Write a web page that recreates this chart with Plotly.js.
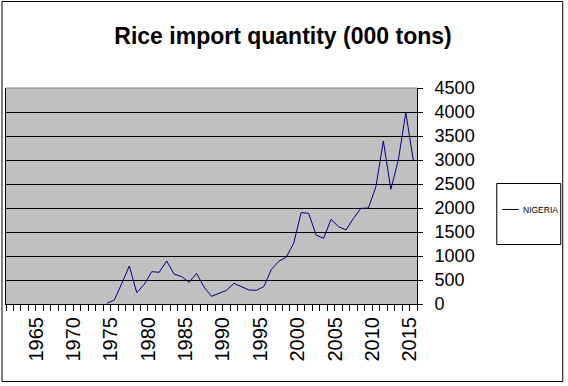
<!DOCTYPE html>
<html>
<head>
<meta charset="utf-8">
<script src="https://cdn.plot.ly/plotly-3.0.1.min.js"></script>
<style>
  html, body { margin: 0; padding: 0; background: #fff; }
  #chart { width: 568px; height: 386px; }
</style>
</head>
<body>
<div id="chart"></div>
<script>
// ---- Data ----
const years = [1962, 1963, 1964, 1965, 1966, 1967, 1968, 1969, 1970, 1971,
               1972, 1973, 1974, 1975, 1976, 1977, 1978, 1979, 1980, 1981,
               1982, 1983, 1984, 1985, 1986, 1987, 1988, 1989, 1990, 1991,
               1992, 1993, 1994, 1995, 1996, 1997, 1998, 1999, 2000, 2001,
               2002, 2003, 2004, 2005, 2006, 2007, 2008, 2009, 2010, 2011,
               2012, 2013, 2014, 2015, 2016];
const nigeria = [null, null, null, null, null, null, null, null, null, null,
                 null, null, null, 15, 83, 430, 792, 236, 410, 674,
                 660, 896, 625, 570, 451, 639, 355, 160, 222, 285,
                 431, 361, 292, 285, 361, 715, 890, 975, 1264, 1905,
                 1889, 1437, 1368, 1764, 1611, 1542, 1785, 1993, 2000, 2444,
                 3396, 2389, 3000, 3986, 3000];
const xTickLabels = [1965, 1970, 1975, 1980, 1985, 1990, 1995, 2000, 2005, 2010, 2015];
const yTicks = [0, 500, 1000, 1500, 2000, 2500, 3000, 3500, 4000, 4500];
const seriesName = 'NIGERIA';
const chartTitle = 'Rice import quantity (000 tons)';

const FONT = 'Arial, "Liberation Sans", sans-serif';

// Plot area in pixels
const L = 5.5, R = 416.7, T = 88, B = 304, W = 568, H = 386;
const pw = R - L, ph = B - T;
const px = v => (v - L) / pw;       // pixel x -> paper x
const py = v => (B - v) / ph;       // pixel y -> paper y

const trace = {
  type: 'scatter',
  mode: 'lines',
  x: years,
  y: nigeria,
  name: seriesName,
  line: { color: '#000080', width: 1 },
  connectgaps: false,
  hoverinfo: 'x+y'
};

const layout = {
  width: W, height: H,
  margin: { l: L, r: W - R, t: T, b: H - B, pad: 0 },
  paper_bgcolor: '#ffffff',
  plot_bgcolor: '#c0c0c0',
  showlegend: false,
  title: {
    text: '<b>' + chartTitle + '</b>',
    font: { family: FONT, size: 23, color: '#000' },
    xref: 'container', yref: 'container',
    x: 283 / W, xanchor: 'center',
    y: 1 - 36 / H, yanchor: 'middle'
  },
  xaxis: {
    type: 'linear',
    range: [years[0] - 0.5, years[years.length - 1] + 0.5],
    tickmode: 'array',
    tickvals: xTickLabels,
    ticktext: xTickLabels.map(String),
    ticks: '',
    tickangle: -90,
    ticklabelshift: 4,
    ticklabelstandoff: 4,
    tickfont: { family: FONT, size: 20, color: '#000' },
    showgrid: false,
    zeroline: false,
    showline: true,
    linecolor: '#000',
    linewidth: 1,
    minor: {
      tickmode: 'linear',
      tick0: years[0] - 0.5,
      dtick: 1,
      ticks: 'outside',
      ticklen: 6,
      tickwidth: 1,
      tickcolor: '#000',
      showgrid: false
    },
    fixedrange: true
  },
  yaxis: {
    side: 'right',
    range: [0, 4500],
    tickmode: 'array',
    tickvals: yTicks,
    ticktext: yTicks.map(String),
    ticks: 'outside',
    ticklen: 5,
    tickwidth: 1,
    tickcolor: '#000',
    ticklabelstandoff: 8,
    tickfont: { family: FONT, size: 18, color: '#000' },
    showgrid: true,
    gridcolor: '#000',
    gridwidth: 1,
    zeroline: false,
    showline: true,
    mirror: true,
    linecolor: '#000',
    linewidth: 1,
    fixedrange: true
  },
  shapes: [
    // gray top edge of the plot area
    { type: 'line', xref: 'paper', yref: 'paper', x0: 0, x1: 1, y0: 1, y1: 1,
      line: { color: '#808080', width: 1 } },
    // outer chart border
    { type: 'rect', xref: 'paper', yref: 'paper',
      x0: px(1.5), x1: px(562.5), y0: py(1.5), y1: py(381.5),
      line: { color: '#000', width: 1 }, fillcolor: 'rgba(0,0,0,0)' },
    // legend box
    { type: 'rect', xref: 'paper', yref: 'paper',
      x0: px(496.5), x1: px(560.5), y0: py(183.5), y1: py(244.5),
      line: { color: '#000', width: 1 }, fillcolor: '#fff' },
    // legend sample line
    { type: 'line', xref: 'paper', yref: 'paper',
      x0: px(502), x1: px(518.5), y0: py(209.5), y1: py(209.5),
      line: { color: '#000080', width: 1 } }
  ],
  annotations: [
    { xref: 'paper', yref: 'paper', x: px(520.5), y: py(209.5),
      xanchor: 'left', yanchor: 'middle', showarrow: false,
      text: seriesName, font: { family: FONT, size: 8.5, color: '#000' } }
  ]
};

Plotly.newPlot('chart', [trace], layout, { displayModeBar: false, staticPlot: true });
</script>
</body>
</html>
